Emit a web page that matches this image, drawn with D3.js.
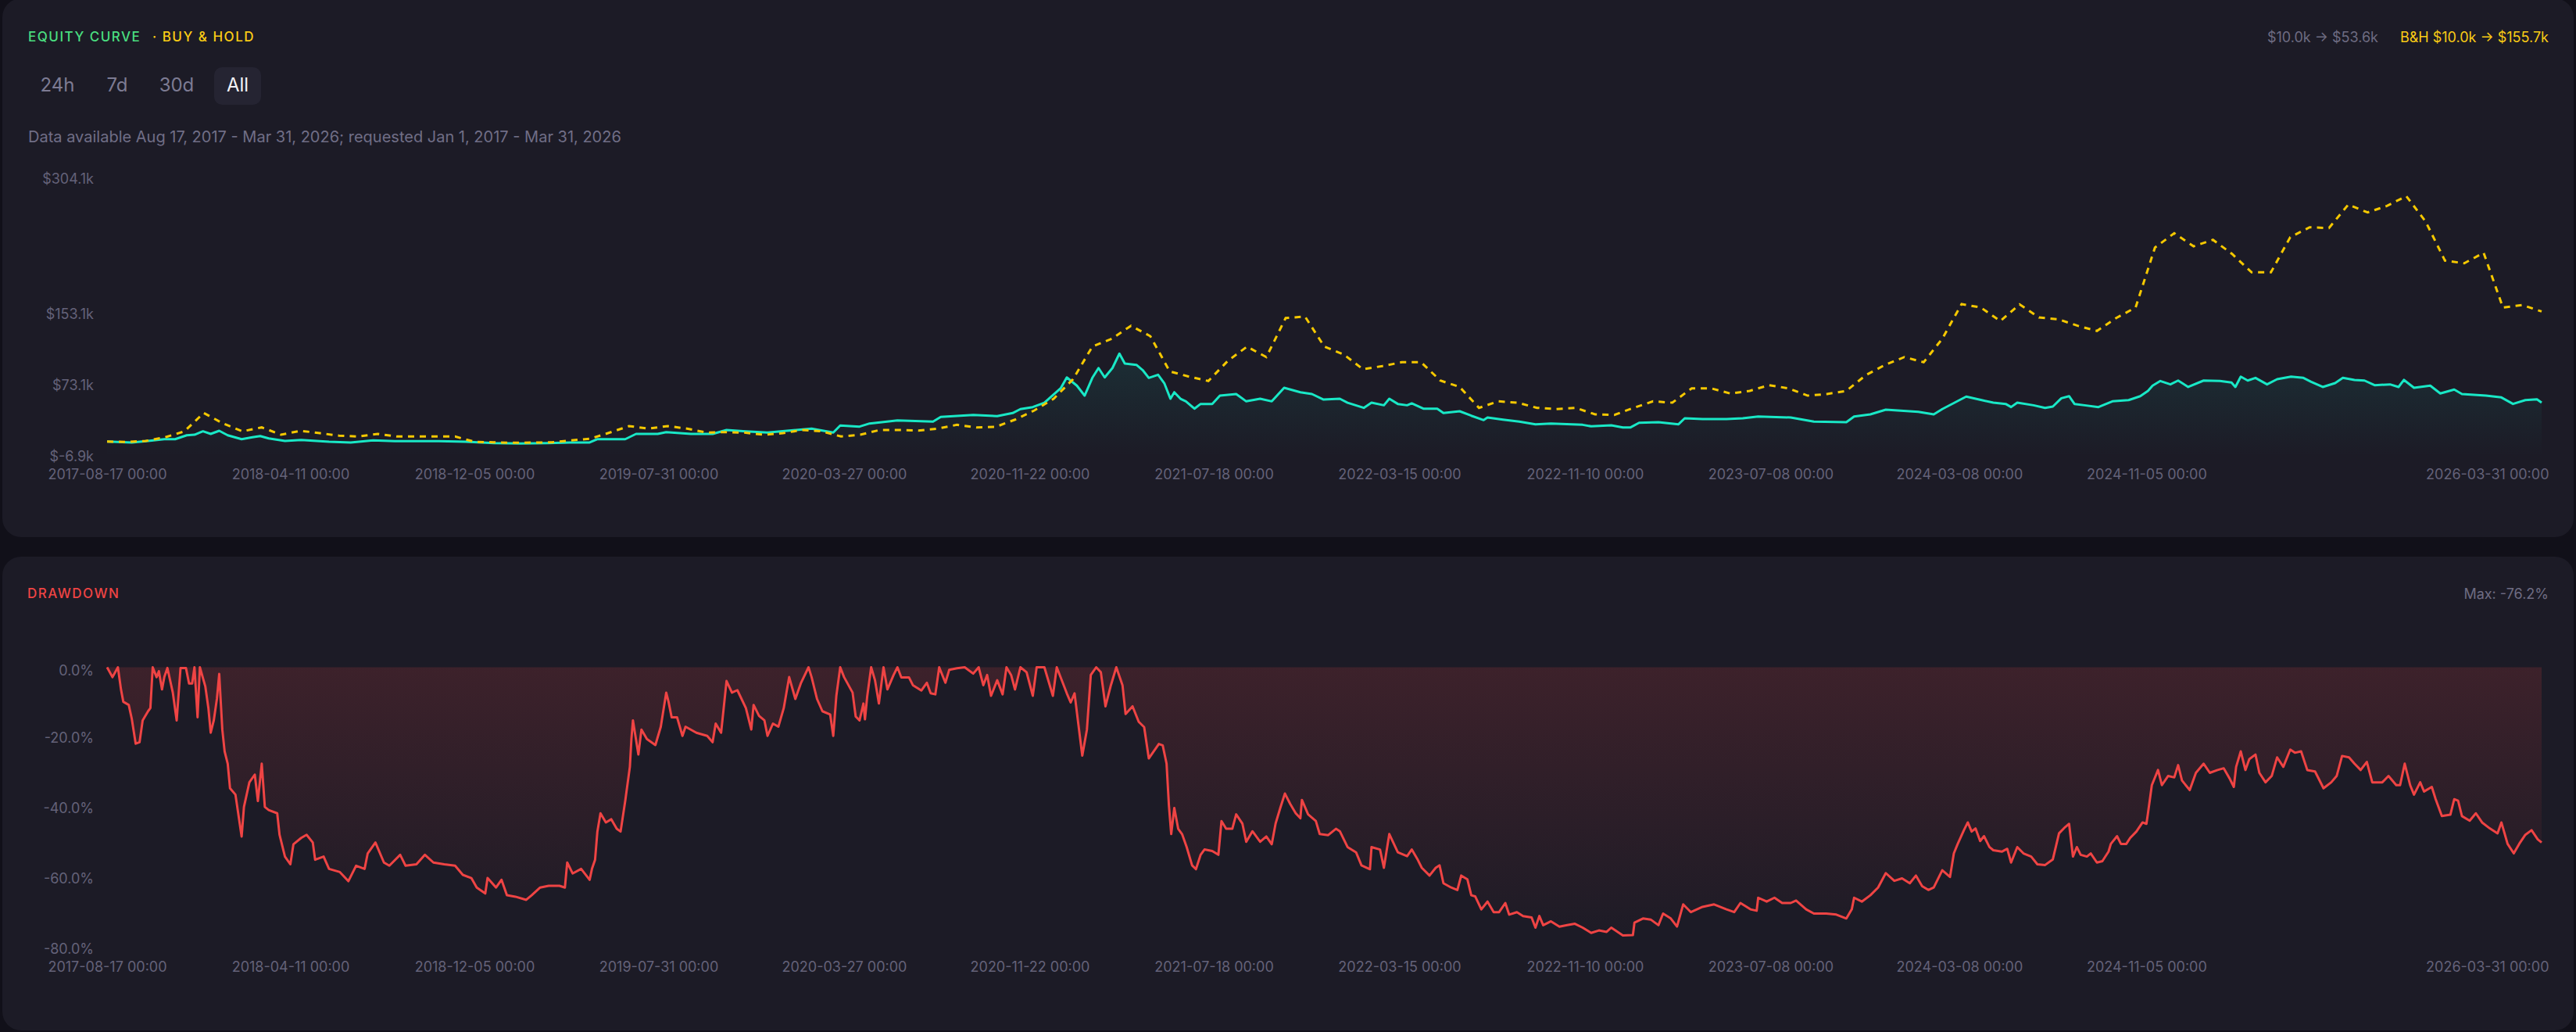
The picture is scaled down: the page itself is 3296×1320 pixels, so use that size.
<!DOCTYPE html>
<html>
<head>
<meta charset="utf-8">
<script src="https://cdn.jsdelivr.net/npm/d3@7"></script>
<style>
  html, body { margin: 0; background: #111019; }
  svg { display: block; font-family: Inter, "Noto Sans", sans-serif; }
</style>
</head>
<body>
<div id="chart"></div>
<script>
// strategy equity turning points: [days since 2017-08-17, equity $k]
const equityPoints = [
  [0, 10.0], [32, 8.9], [53, 10.6], [74, 12.6], [88, 12.6], [103, 17.0], [113, 17.6], [124, 21.4], [134, 18.5],
  [145, 22.0], [156, 17.0], [174, 12.6], [188, 14.7], [198, 16.1], [209, 13.5], [230, 10.6], [251, 11.8], [287, 9.7],
  [315, 8.9], [344, 11.2], [372, 10.4], [429, 10.4], [464, 9.7], [500, 8.3], [535, 7.7], [570, 8.3], [599, 8.9],
  [624, 8.9], [634, 12.6], [670, 12.6], [684, 18.5], [712, 18.5], [723, 20.5], [755, 18.5], [783, 18.5], [801, 22.9],
  [826, 21.4], [854, 20.0], [882, 22.3], [911, 24.4], [925, 22.3], [939, 20.0], [948, 27.9], [973, 26.7], [986, 30.2],
  [1022, 33.7], [1068, 32.3], [1078, 37.5], [1120, 39.8], [1151, 38.4], [1171, 41.9], [1181, 46.3], [1197, 48.6],
  [1212, 53.5], [1233, 69.6], [1241, 81.8], [1254, 72.6], [1264, 61.4], [1274, 81.3], [1282, 92.3], [1290, 81.8],
  [1300, 92.3], [1309, 108.5], [1316, 97.3], [1331, 95.9], [1339, 90.1], [1347, 81.3], [1359, 84.8], [1367, 75.4],
  [1375, 57.9], [1380, 65.2], [1388, 57.9], [1395, 55.0], [1406, 46.8], [1414, 52.1], [1429, 52.1], [1439, 61.4],
  [1460, 63.2], [1473, 55.0], [1491, 57.9], [1506, 55.0], [1522, 70.2], [1543, 65.2], [1558, 63.2], [1573, 57.0],
  [1594, 57.9], [1604, 53.5], [1625, 47.7], [1635, 53.5], [1651, 50.6], [1658, 57.9], [1669, 52.1], [1681, 50.6],
  [1687, 52.7], [1702, 46.8], [1720, 46.8], [1728, 41.9], [1749, 43.9], [1764, 38.9], [1780, 34.0], [1785, 36.9],
  [1805, 34.5], [1826, 32.3], [1847, 29.3], [1867, 30.2], [1908, 28.7], [1919, 27.0], [1945, 28.1], [1960, 25.8],
  [1970, 25.8], [1981, 31.0], [2006, 31.6], [2032, 29.3], [2040, 36.0], [2063, 35.1], [2094, 35.1], [2115, 36.0],
  [2135, 38.0], [2177, 36.9], [2207, 32.3], [2249, 31.6], [2259, 38.0], [2280, 40.4], [2300, 45.7], [2342, 43.3],
  [2362, 40.4], [2373, 46.3], [2404, 60.3], [2424, 56.4], [2439, 53.5], [2455, 52.1], [2462, 48.6], [2470, 53.5],
  [2491, 50.6], [2506, 47.7], [2516, 49.2], [2527, 58.5], [2537, 60.8], [2544, 52.1], [2557, 50.6], [2575, 48.6],
  [2593, 55.0], [2614, 56.4], [2629, 60.8], [2639, 66.7], [2645, 72.6], [2655, 77.8], [2668, 74.0], [2678, 78.3],
  [2691, 71.1], [2711, 78.3], [2732, 77.8], [2747, 76.1], [2752, 71.1], [2759, 82.7], [2768, 78.3], [2778, 81.3],
  [2793, 74.0], [2806, 79.8], [2824, 82.7], [2840, 81.3], [2850, 76.9], [2865, 71.1], [2881, 75.4], [2891, 81.3],
  [2906, 79.0], [2919, 78.3], [2932, 73.1], [2952, 74.0], [2963, 71.1], [2970, 79.0], [2983, 70.2], [3004, 72.6],
  [3017, 63.8], [3035, 68.2], [3045, 63.2], [3076, 61.4], [3096, 59.4], [3111, 52.1], [3127, 56.4], [3142, 57.3],
  [3148, 53.6]
];

// buy & hold, in $k, sampled evenly from 2017-08-17 to 2026-03-31
const buyHold = [
  10.0, 9.5, 10.6, 14.7, 21.4, 42.0, 30.2, 21.4, 25.8, 17.6, 22.0, 19.4, 16.5, 15.6, 18.5, 15.6,
  15.6, 15.6, 15.6, 9.7, 9.1, 8.6, 8.8, 9.1, 11.2, 13.2, 20.0, 27.3, 24.4, 27.3, 24.4, 20.0,
  20.5, 20.0, 17.6, 19.4, 22.9, 21.4, 15.6, 17.6, 22.9, 22.9, 22.3, 24.4, 28.7, 25.8, 26.4, 34.5,
  44.8, 57.9, 79.8, 116.3, 125.1, 139.7, 128.0, 88.6, 82.7, 77.8, 100.2, 116.3, 104.6, 148.4, 150.0, 116.3,
  107.6, 91.0, 94.5, 98.8, 98.8, 78.3, 71.1, 47.7, 55.0, 53.5, 47.7, 46.3, 47.7, 40.4, 39.8, 47.7,
  55.0, 53.5, 69.6, 69.6, 63.8, 66.7, 73.1, 69.6, 61.4, 63.2, 66.7, 84.2, 95.9, 104.6, 98.8, 125.1,
  164.0, 160.1, 144.9, 163.7, 149.0, 147.0, 139.7, 133.9, 148.4, 160.1, 227.3, 243.4, 228.7, 236.0, 220.0, 199.6,
  199.6, 239.0, 250.0, 249.2, 275.4, 266.7, 274.0, 285.0, 256.5, 212.7, 209.7, 221.5, 160.1, 163.0, 155.7
];

// drawdown turning points: [days since 2017-08-17, drawdown %]
const drawdownPoints = [
  [0, 0], [7, -2.8], [14, 0], [18, -6.3], [21, -9.8], [28, -10.7], [32, -14.7], [37, -21.7], [42, -21.3],
  [46, -15.1], [53, -12.5], [56, -11.6], [59, 0], [64, -2.8], [67, -1.1], [71, -6.3], [74, -2.8], [78, -0.2],
  [85, -7.2], [90, -15.1], [95, -0.2], [102, -0.2], [106, -4.6], [110, -4.6], [113, 0], [117, -14.2], [120, 0],
  [127, -5.4], [131, -11.6], [134, -18.6], [138, -15.1], [142, -9.0], [145, -1.9], [149, -17.7], [152, -23.9],
  [156, -27.4], [159, -34.4], [166, -36.2], [174, -48.1], [177, -39.7], [184, -32.7], [191, -30.5], [195, -38.0],
  [200, -27.4], [204, -39.7], [209, -40.6], [220, -41.5], [223, -47.6], [230, -53.8], [237, -56.0], [241, -50.3],
  [251, -48.5], [258, -47.6], [266, -49.8], [269, -54.7], [280, -53.8], [287, -57.3], [301, -58.2], [312, -60.8],
  [322, -56.4], [333, -57.3], [337, -52.9], [347, -49.8], [358, -55.5], [365, -56.4], [379, -53.3], [386, -56.4],
  [400, -56.0], [411, -53.3], [422, -55.5], [436, -56.0], [450, -56.4], [460, -59.0], [471, -59.9], [478, -62.6],
  [489, -64.3], [492, -59.9], [503, -62.6], [510, -60.4], [517, -64.8], [528, -65.2], [542, -66.1], [549, -64.8],
  [560, -62.6], [571, -62.1], [585, -62.1], [592, -62.6], [595, -55.5], [602, -58.6], [613, -57.3], [624, -60.4],
  [627, -57.3], [631, -54.7], [634, -46.7], [638, -41.5], [645, -44.1], [652, -43.2], [659, -45.9], [664, -46.7],
  [670, -38.0], [676, -28.3], [678, -20.4], [680, -15.1], [687, -24.8], [691, -17.7], [698, -20.4], [709, -22.1],
  [716, -16.9], [723, -7.2], [726, -9.8], [730, -14.2], [737, -14.2], [744, -19.5], [748, -16.9], [762, -18.6],
  [776, -19.5], [783, -21.3], [787, -16.0], [794, -18.6], [801, -3.9], [808, -7.2], [815, -6.5], [826, -11.6],
  [833, -17.7], [836, -10.7], [843, -13.8], [850, -15.1], [854, -19.5], [861, -16.0], [868, -16.9], [875, -11.6],
  [882, -2.8], [890, -9.0], [897, -4.6], [907, 0], [911, -2.8], [918, -9.0], [925, -12.5], [935, -13.4],
  [939, -19.5], [943, -8.1], [948, 0], [953, -2.8], [964, -7.2], [968, -14.0], [973, -15.1], [978, -10.3],
  [980, -14.8], [983, -8.1], [988, 0], [993, -3.7], [998, -10.3], [1004, 0], [1009, -6.3], [1017, -2.2],
  [1022, 0], [1027, -2.9], [1037, -2.9], [1042, -5.1], [1053, -6.6], [1060, -4.4], [1065, -7.4], [1071, -7.7],
  [1076, 0], [1084, -4.4], [1089, -0.7], [1099, -0.3], [1109, 0], [1120, -1.8], [1127, 0], [1133, -5.1],
  [1138, -2.2], [1143, -8.1], [1151, -3.7], [1158, -7.7], [1163, 0], [1169, -2.2], [1174, -6.3], [1181, 0],
  [1189, -1.4], [1197, -8.1], [1202, 0], [1212, 0], [1223, -8.1], [1228, 0], [1241, -7.4], [1246, -10.0],
  [1251, -7.4], [1256, -16.3], [1261, -25.1], [1267, -17.7], [1272, -2.2], [1279, 0], [1285, -1.4], [1291, -11.1],
  [1298, -5.1], [1305, 0], [1313, -5.1], [1317, -13.3], [1326, -11.1], [1334, -15.5], [1341, -17.0], [1347, -25.9],
  [1354, -23.7], [1360, -21.8], [1365, -22.2], [1370, -27.4], [1373, -39.2], [1376, -47.4], [1380, -40.0], [1385, -45.9],
  [1390, -47.4], [1396, -51.1], [1403, -56.3], [1408, -57.4], [1414, -53.3], [1419, -51.8], [1429, -52.2], [1437, -53.3],
  [1441, -43.7], [1447, -45.9], [1455, -45.9], [1460, -41.8], [1468, -44.4], [1473, -49.6], [1481, -46.6], [1491, -49.6],
  [1499, -48.1], [1506, -50.3], [1511, -44.4], [1517, -40.0], [1523, -35.9], [1530, -38.9], [1537, -41.5], [1543, -42.9],
  [1545, -37.7], [1553, -41.8], [1563, -43.7], [1568, -47.4], [1579, -47.7], [1589, -45.9], [1594, -46.6], [1604, -51.1],
  [1615, -52.6], [1622, -56.3], [1633, -57.4], [1635, -51.1], [1646, -51.8], [1651, -57.0], [1658, -47.4], [1669, -52.6],
  [1681, -53.7], [1687, -51.8], [1695, -54.8], [1700, -57.0], [1710, -59.2], [1718, -57.0], [1723, -56.3], [1728, -61.4],
  [1738, -62.6], [1746, -63.3], [1751, -59.2], [1759, -60.3], [1764, -64.8], [1769, -65.1], [1777, -68.8], [1785, -66.6],
  [1793, -69.6], [1800, -69.6], [1808, -67.0], [1813, -70.3], [1823, -69.6], [1831, -70.7], [1842, -71.1], [1847, -74.0],
  [1852, -70.7], [1857, -73.3], [1867, -72.2], [1878, -73.7], [1888, -73.3], [1898, -72.9], [1908, -74.0], [1919, -75.5],
  [1929, -74.8], [1939, -75.2], [1945, -74.0], [1960, -76.2], [1973, -76.1], [1975, -72.6], [1986, -71.4], [1996, -71.7],
  [2006, -73.3], [2012, -70.0], [2022, -71.4], [2030, -73.7], [2038, -67.4], [2048, -69.6], [2063, -68.1], [2078, -67.4],
  [2094, -68.8], [2104, -69.6], [2112, -67.0], [2125, -68.8], [2133, -69.2], [2135, -65.5], [2146, -66.6], [2156, -65.5],
  [2166, -67.0], [2177, -67.0], [2184, -66.3], [2197, -68.8], [2207, -70.0], [2223, -70.0], [2236, -70.3], [2249, -71.4],
  [2256, -68.8], [2259, -65.5], [2269, -66.6], [2280, -64.8], [2290, -62.6], [2300, -58.5], [2311, -60.7], [2321, -60.0],
  [2331, -61.4], [2339, -59.2], [2347, -62.2], [2355, -63.3], [2362, -62.6], [2373, -57.7], [2383, -59.6], [2388, -52.9],
  [2393, -50.2], [2401, -46.3], [2406, -44.1], [2411, -46.7], [2416, -45.8], [2422, -49.4], [2427, -48.0], [2434, -51.1],
  [2439, -52.0], [2450, -52.4], [2457, -51.6], [2462, -55.5], [2470, -51.1], [2478, -52.9], [2488, -53.8], [2496, -56.0],
  [2506, -56.2], [2516, -54.6], [2524, -47.2], [2532, -45.4], [2537, -44.5], [2542, -53.8], [2547, -51.1], [2552, -53.3],
  [2560, -53.8], [2565, -52.9], [2573, -55.5], [2580, -55.1], [2588, -52.4], [2591, -50.2], [2599, -48.0], [2604, -50.2],
  [2611, -50.2], [2616, -48.5], [2624, -46.7], [2632, -44.1], [2637, -44.5], [2639, -41.5], [2644, -33.5], [2652, -29.2],
  [2657, -33.5], [2665, -30.9], [2673, -31.3], [2678, -27.8], [2683, -32.2], [2693, -34.9], [2701, -30.0], [2711, -27.4],
  [2719, -30.0], [2729, -29.2], [2737, -28.7], [2745, -31.8], [2750, -34.0], [2753, -28.3], [2759, -23.9], [2765, -29.2],
  [2770, -26.1], [2778, -24.8], [2783, -30.0], [2791, -32.7], [2799, -30.9], [2806, -25.6], [2814, -28.3], [2823, -23.4],
  [2829, -24.3], [2837, -23.9], [2845, -29.2], [2855, -29.6], [2866, -34.4], [2876, -32.7], [2883, -30.9], [2890, -25.2],
  [2899, -25.6], [2906, -27.4], [2914, -29.2], [2922, -26.9], [2929, -32.7], [2942, -32.7], [2950, -30.9], [2960, -33.5],
  [2965, -33.5], [2971, -27.4], [2978, -33.5], [2983, -36.2], [2991, -32.7], [2996, -35.3], [3006, -34.0], [3011, -37.5],
  [3019, -42.3], [3030, -41.9], [3035, -37.5], [3040, -37.9], [3045, -42.3], [3055, -43.6], [3063, -41.5], [3071, -44.1],
  [3081, -45.8], [3091, -47.2], [3096, -44.1], [3104, -50.2], [3112, -52.9], [3119, -50.2], [3127, -47.6], [3135, -46.3],
  [3143, -48.9], [3148, -49.8]
];

const tickDates = [
  "2017-08-17", "2018-04-11", "2018-12-05", "2019-07-31", "2020-03-27", "2020-11-22", "2021-07-18",
  "2022-03-15", "2022-11-10", "2023-07-08", "2024-03-08", "2024-11-05", "2026-03-31"
];
const equityTicks = [-6.9, 73.1, 153.1, 304.1];
const drawdownTicks = [0, -20, -40, -60, -80];
const rangeButtons = ["24h", "7d", "30d", "All"];

const config = {
  width: 3296,
  height: 1320,
  panelBg: "#1c1b26",
  teal: "#19e8c6",
  gold: "#f5c800",
  red: "#ef4444",
  muted: "#646279",
  label: "#6e6c82",
  lineWidth: 3,
};

const parse = d3.timeParse("%Y-%m-%d");
const startDate = parse("2017-08-17");
const endDate = parse("2026-03-31");
const totalDays = d3.timeDay.count(startDate, endDate);
const sampleDates = buyHold.map((_, i) =>
  d3.timeDay.offset(startDate, Math.round((i * totalDays) / (buyHold.length - 1)))
);

const svg = d3
  .select("#chart")
  .append("svg")
  .attr("width", config.width)
  .attr("height", config.height);

const defs = svg.append("defs");

const tealFill = defs
  .append("linearGradient")
  .attr("id", "tealFill")
  .attr("gradientUnits", "userSpaceOnUse")
  .attr("x1", 0).attr("x2", 0)
  .attr("y1", 229).attr("y2", 584);
tealFill.append("stop").attr("offset", 0).attr("stop-color", config.teal).attr("stop-opacity", 0.26);
tealFill.append("stop").attr("offset", 1).attr("stop-color", config.teal).attr("stop-opacity", 0);

const redFill = defs
  .append("linearGradient")
  .attr("id", "redFill")
  .attr("gradientUnits", "userSpaceOnUse")
  .attr("x1", 0).attr("x2", 0)
  .attr("y1", 853.5).attr("y2", 1213.5);
redFill.append("stop").attr("offset", 0).attr("stop-color", config.red).attr("stop-opacity", 0.155);
redFill.append("stop").attr("offset", 1).attr("stop-color", config.red).attr("stop-opacity", 0.0);

// Panels
svg.append("rect")
  .attr("x", 3).attr("y", -2)
  .attr("width", 3290).attr("height", 689)
  .attr("rx", 24)
  .attr("fill", config.panelBg);

svg.append("rect")
  .attr("x", 3).attr("y", 712)
  .attr("width", 3290).attr("height", 606)
  .attr("rx", 24)
  .attr("fill", config.panelBg);

// Scales
const x = d3.scaleTime().domain([startDate, endDate]).range([137, 3252]);
const yEq = d3.scaleLinear().domain([-6.9, 304.1]).range([584, 229]);
const yDd = d3.scaleLinear().domain([-80, 0]).range([1213.5, 853.5]);

// Header texts
svg.append("text")
  .attr("x", 36).attr("y", 47)
  .attr("dy", "0.35em")
  .attr("fill", "#4ade80")
  .attr("font-size", 17)
  .attr("font-weight", 500)
  .attr("letter-spacing", 1.5)
  .text("EQUITY CURVE");

svg.append("text")
  .attr("x", 195).attr("y", 47)
  .attr("dy", "0.35em")
  .attr("fill", "#facc15")
  .attr("font-size", 17)
  .attr("font-weight", 500)
  .attr("letter-spacing", 1.5)
  .text("· BUY & HOLD");

svg.append("text")
  .attr("x", 3261).attr("y", 48)
  .attr("dy", "0.35em")
  .attr("text-anchor", "end")
  .attr("fill", "#facc15")
  .attr("font-size", 18)
  .text("B&H $10.0k → $155.7k");

svg.append("text")
  .attr("x", 3043).attr("y", 48)
  .attr("dy", "0.35em")
  .attr("text-anchor", "end")
  .attr("fill", config.label)
  .attr("font-size", 18)
  .text("$10.0k → $53.6k");

// Range buttons
const buttonX = [73.5, 150, 226, 304];
svg.append("rect")
  .attr("x", 274).attr("y", 86)
  .attr("width", 60).attr("height", 48)
  .attr("rx", 10)
  .attr("fill", "#252432");

svg.selectAll(".range")
  .data(rangeButtons)
  .enter()
  .append("text")
  .attr("class", "range")
  .attr("x", (d, i) => buttonX[i])
  .attr("y", 109)
  .attr("dy", "0.35em")
  .attr("text-anchor", "middle")
  .attr("font-size", 24)
  .attr("fill", (d) => (d === "All" ? "#f2f2f7" : "#7d7b93"))
  .text((d) => d);

svg.append("text")
  .attr("x", 36).attr("y", 175)
  .attr("dy", "0.35em")
  .attr("fill", "#706e86")
  .attr("font-size", 20)
  .text("Data available Aug 17, 2017 - Mar 31, 2026; requested Jan 1, 2017 - Mar 31, 2026");

// Axes
function styleAxis(g) {
  g.select(".domain").remove();
  g.selectAll("text")
    .attr("fill", config.muted)
    .attr("font-size", 18)
    .attr("font-family", "Inter, 'Noto Sans', sans-serif");
}

function drawXAxis(yPos) {
  const g = svg.append("g")
    .attr("transform", `translate(0,${yPos})`)
    .call(
      d3.axisBottom(x)
        .tickValues(tickDates.map(parse))
        .tickFormat(d3.timeFormat("%Y-%m-%d %H:%M"))
        .tickSize(0)
        .tickPadding(0)
    )
    .call(styleAxis);
  g.selectAll("text").attr("y", 0).attr("dy", "0.35em");
  // last label is pulled inside the panel
  g.selectAll(".tick")
    .filter((d, i) => i === tickDates.length - 1)
    .select("text")
    .attr("text-anchor", "end")
    .attr("x", 9);
}

svg.append("g")
  .attr("transform", "translate(120,0)")
  .call(
    d3.axisLeft(yEq)
      .tickValues(equityTicks)
      .tickFormat((v) => "$" + v.toFixed(1) + "k")
      .tickSize(0)
      .tickPadding(0)
  )
  .call(styleAxis);

drawXAxis(607);

// Equity area + lines
const byDay = ([day, v]) => ({ date: d3.timeDay.offset(startDate, day), v });
const eqData = equityPoints.map(byDay);
const bhData = sampleDates.map((date, i) => ({ date, v: buyHold[i] }));

svg.append("path")
  .datum(eqData)
  .attr("fill", "url(#tealFill)")
  .attr("d", d3.area().x((d) => x(d.date)).y0(yEq(-6.9)).y1((d) => yEq(d.v)));

svg.append("path")
  .datum(eqData)
  .attr("fill", "none")
  .attr("stroke", config.teal)
  .attr("stroke-width", config.lineWidth)
  .attr("stroke-linejoin", "round")
  .attr("d", d3.line().x((d) => x(d.date)).y((d) => yEq(d.v)));

svg.append("path")
  .datum(bhData)
  .attr("fill", "none")
  .attr("stroke", config.gold)
  .attr("stroke-width", config.lineWidth)
  .attr("stroke-dasharray", "8 7")
  .attr("d", d3.line().x((d) => x(d.date)).y((d) => yEq(d.v)));

// Drawdown panel
svg.append("text")
  .attr("x", 35).attr("y", 759)
  .attr("dy", "0.35em")
  .attr("fill", config.red)
  .attr("font-size", 17)
  .attr("font-weight", 500)
  .attr("letter-spacing", 1.5)
  .text("DRAWDOWN");

svg.append("text")
  .attr("x", 3261).attr("y", 760)
  .attr("dy", "0.35em")
  .attr("text-anchor", "end")
  .attr("fill", config.label)
  .attr("font-size", 18)
  .text("Max: -76.2%");

const ddAxis = svg.append("g")
  .attr("transform", "translate(120,0)")
  .call(
    d3.axisLeft(yDd)
      .tickValues(drawdownTicks)
      .tickFormat((v) => v.toFixed(1) + "%")
      .tickSize(0)
      .tickPadding(0)
  )
  .call(styleAxis);
ddAxis.selectAll(".tick").filter((d) => d === 0).select("text").attr("y", 4);

drawXAxis(1237);

const ddData = drawdownPoints.map(byDay);

svg.append("path")
  .datum(ddData)
  .attr("fill", "url(#redFill)")
  .attr("d", d3.area().x((d) => x(d.date)).y0(yDd(0)).y1((d) => yDd(d.v)));

svg.append("path")
  .datum(ddData)
  .attr("fill", "none")
  .attr("stroke", config.red)
  .attr("stroke-width", config.lineWidth)
  .attr("stroke-linejoin", "round")
  .attr("d", d3.line().x((d) => x(d.date)).y((d) => yDd(d.v)));
</script>
</body>
</html>
